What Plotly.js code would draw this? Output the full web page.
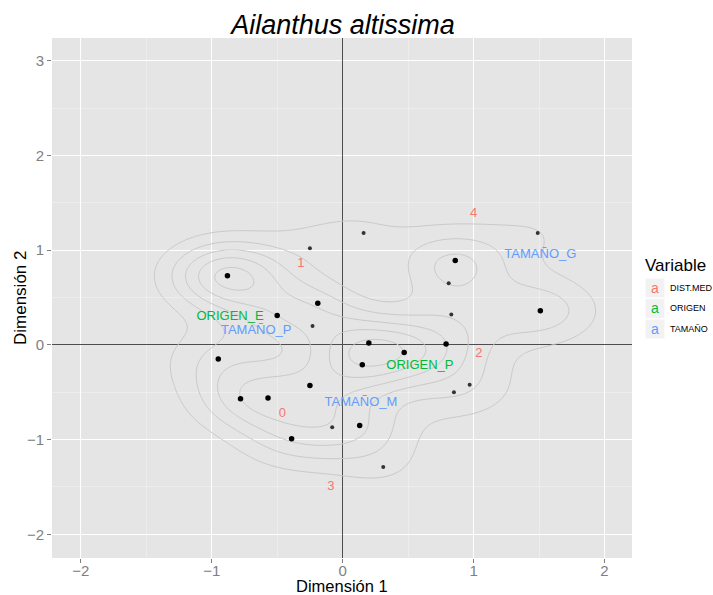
<!DOCTYPE html>
<html>
<head>
<meta charset="utf-8">
<script src="https://cdn.plot.ly/plotly-3.0.1.min.js"></script>
<style>html,body{margin:0;padding:0;background:#fff;}#plot{width:713px;height:595px;}</style>
</head>
<body>
<div id="plot"></div>
<script>
// Individuals (larger, overplotted points) and their estimated multiplicity
var bigX = [-0.88, -0.50, -0.19, -0.95, -0.78, -0.57, -0.25, -0.39, 0.13, 0.20, 0.15, 0.47, 0.86, 1.51, 0.79];
var bigY = [0.73, 0.31, 0.44, -0.15, -0.57, -0.56, -0.43, -0.99, -0.85, 0.02, -0.21, -0.08, 0.89, 0.36, 0.01];
var bigN = [6, 2, 2, 2, 2, 2, 2, 2, 2, 3, 3, 2, 3, 3, 2];
// Individuals (smaller points)
var smallX = [-0.25, -0.23, 0.16, 1.49, 0.81, 0.83, 0.97, 0.85, -0.08, 0.31];
var smallY = [1.02, 0.20, 1.18, 1.18, 0.65, 0.32, -0.42, -0.50, -0.87, -1.29];
// Category labels
var distLabels = ["0", "1", "2", "3", "4"];
var distX = [-0.46, -0.32, 1.04, -0.09, 1.00];
var distY = [-0.73, 0.86, -0.09, -1.50, 1.38];
var origLabels = ["ORIGEN_E", "ORIGEN_P"];
var origX = [-0.86, 0.59];
var origY = [0.30, -0.22];
var tamLabels = ["TAMAÑO_G", "TAMAÑO_M", "TAMAÑO_P"];
var tamX = [1.51, 0.14, -0.66];
var tamY = [0.95, -0.61, 0.15];
var legendNames = ["DIST.MED", "ORIGEN", "TAMAÑO"];
var legendColors = ["#F8766D", "#00BA38", "#619CFF"];

// 2D kernel density of the individuals (stat_density2d-like)
var allX = [], allY = [];
bigX.forEach(function(v,i){ for (var c=0;c<bigN[i];c++){ allX.push(v); allY.push(bigY[i]); } });
smallX.forEach(function(v,i){ allX.push(v); allY.push(smallY[i]); });
var hx = 0.31, hy = 0.255;
var N = 150, gx = [], gy = [], gz = [], zmax = 0;
for (var i = 0; i < N; i++) { gx.push(-2.2 + 4.4*i/(N-1)); gy.push(-2.2 + 5.4*i/(N-1)); }
for (var j = 0; j < N; j++) {
  var row = [];
  for (var k = 0; k < N; k++) {
    var s = 0;
    for (var p = 0; p < allX.length; p++) {
      var u = (gx[k]-allX[p])/hx, v = (gy[j]-allY[p])/hy;
      s += Math.exp(-0.5*(u*u+v*v));
    }
    s = s/(2*Math.PI*allX.length*hx*hy);
    if (s > zmax) zmax = s;
    row.push(s);
  }
  gz.push(row);
}
// pretty breaks, about 10 of them
var raw = zmax/10, mag = Math.pow(10, Math.floor(Math.log10(raw))), f = raw/mag;
var step = (f < 1.5 ? 1 : f < 3 ? 2 : f < 7 ? 5 : 10) * mag;

var font = "Liberation Sans, Arial, Helvetica, sans-serif";
var traces = [
  {type:'contour', x:gx, y:gy, z:gz, showscale:false, autocontour:false,
   contours:{coloring:'lines', start:step, end:zmax, size:step}, line:{color:'#C9C9C9', width:1, smoothing:1},
   colorscale:[[0,'#C9C9C9'],[1,'#C9C9C9']], hoverinfo:'skip', showlegend:false},
  {type:'scatter', mode:'markers', x:bigX, y:bigY, marker:{color:'#000', size:5.5}, showlegend:false},
  {type:'scatter', mode:'markers', x:smallX, y:smallY, marker:{color:'#333', size:4}, showlegend:false},
  {type:'scatter', mode:'text', x:distX, y:distY, text:distLabels, textfont:{color:legendColors[0], size:13, family:font}, showlegend:false},
  {type:'scatter', mode:'text', x:origX, y:origY, text:origLabels, textfont:{color:legendColors[1], size:13, family:font}, showlegend:false},
  {type:'scatter', mode:'text', x:tamX, y:tamY, text:tamLabels, textfont:{color:legendColors[2], size:13, family:font}, showlegend:false}
];

var L = 52, R = 632, T = 38, B = 558;
function px(x){return (x-L)/(R-L);} function py(y){return (B-y)/(B-T);}
var shapes = [], annotations = [];
annotations.push({xref:'paper', yref:'paper', x:px(643), y:py(265), xanchor:'left', yanchor:'middle',
  text:'Variable', showarrow:false, font:{size:17, color:'#000', family:font}});
var rowsY = [288, 308.5, 329];
for (var r = 0; r < 3; r++) {
  shapes.push({type:'rect', xref:'paper', yref:'paper', x0:px(645.5), x1:px(664.5), y0:py(rowsY[r]+9.5), y1:py(rowsY[r]-9.5),
    fillcolor:'#F2F2F2', line:{width:0}, layer:'below'});
  annotations.push({xref:'paper', yref:'paper', x:px(655), y:py(rowsY[r]), xanchor:'center', yanchor:'middle',
    text:'a', showarrow:false, font:{size:14, color:legendColors[r], family:font}});
  annotations.push({xref:'paper', yref:'paper', x:px(668), y:py(rowsY[r]), xanchor:'left', yanchor:'middle',
    text:legendNames[r], showarrow:false, font:{size:9, color:'#000', family:font}});
}
annotations.push({xref:'paper', yref:'paper', x:px(342), y:py(586), xanchor:'center', yanchor:'middle',
  text:'Dimensión 1', showarrow:false, font:{size:16.5, color:'#000', family:font}});
annotations.push({xref:'paper', yref:'paper', x:px(20), y:py(298), xanchor:'center', yanchor:'middle', textangle:-90,
  text:'Dimensión 2', showarrow:false, font:{size:17, color:'#000', family:font}});

var axisCommon = {
  showgrid:true, gridcolor:'#FFFFFF', gridwidth:1.1,
  minor:{showgrid:true, gridcolor:'#F2F2F2', gridwidth:0.6, dtick:0.5},
  zeroline:true, zerolinecolor:'#4D4D4D', zerolinewidth:1.2,
  ticks:'outside', ticklen:4, tickcolor:'#7F7F7F', tickwidth:1,
  tickfont:{size:15, color:'#7F7F7F', family:font}, dtick:1, showline:false, automargin:false
};
var layout = {
  width:713, height:595, margin:{l:L, r:713-R, t:T, b:595-B},
  paper_bgcolor:'#FFFFFF', plot_bgcolor:'#E5E5E5',
  font:{family:font},
  title:{text:'<i>Ailanthus altissima</i>', font:{size:27, color:'#000', family:font}, x:px(343), xref:'paper', y:1-25/595, yref:'container', yanchor:'middle', xanchor:'center'},
  xaxis:Object.assign({}, axisCommon, {range:[-2.22,2.21], ticklabelstandoff:-5}),
  yaxis:Object.assign({}, axisCommon, {range:[-2.25,3.24]}),
  shapes:shapes, annotations:annotations, showlegend:false, hovermode:false
};
Plotly.newPlot('plot', traces, layout, {displayModeBar:false, staticPlot:true});
</script>
</body>
</html>
